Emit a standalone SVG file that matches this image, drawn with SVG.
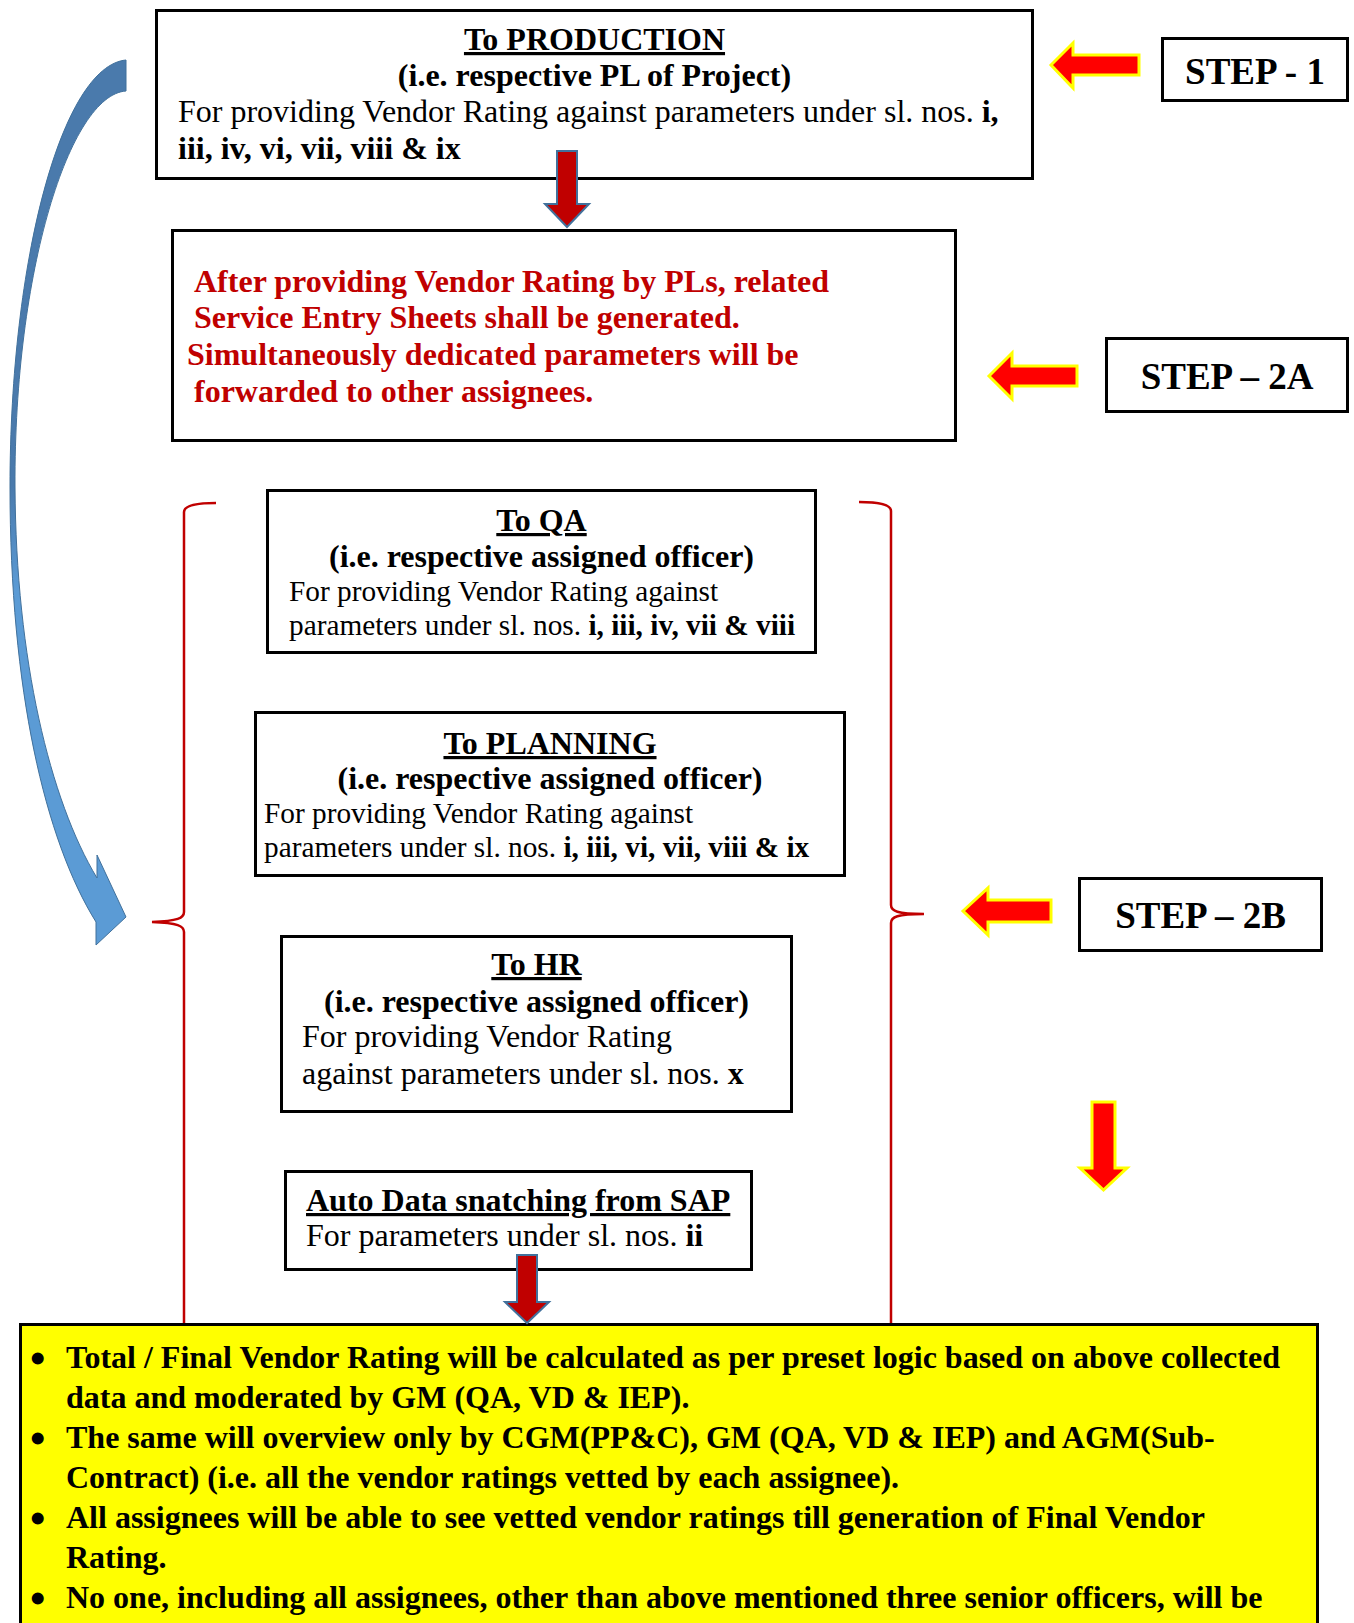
<svg xmlns="http://www.w3.org/2000/svg" width="1354" height="1623" viewBox="0 0 1354 1623">
<style>
text{font-family:"Liberation Serif","Times New Roman",serif;fill:#000}
.h{font-size:32px;font-weight:bold;text-decoration:underline}
.b{font-size:32px;font-weight:bold}
.r{font-size:32px}
.s{font-size:29.3px}
.bt{font-weight:bold}
.bul{font-size:44px;font-weight:bold}
.red{fill:#c00000;font-size:32px;font-weight:bold}
.step{font-size:37px;font-weight:bold}
.box{fill:#fff;stroke:#000;stroke-width:3}
.ylw{fill:#ffff00;stroke:#000;stroke-width:3}
.dn{fill:#c00000;stroke:#41719c;stroke-width:2}
.la{fill:#ff0000;stroke:#ffff00;stroke-width:3;stroke-linejoin:miter}
.brace{fill:none;stroke:#c00000;stroke-width:2.5}
</style>
<defs>
<linearGradient id="blueg" x1="0" y1="0" x2="0" y2="1">
<stop offset="0" stop-color="#4a7aac"/>
<stop offset="0.48" stop-color="#4a7aac"/>
<stop offset="0.6" stop-color="#5b9bd5"/>
<stop offset="1" stop-color="#5b9bd5"/>
</linearGradient>
</defs>

<g id="production">
<rect class="box" x="156.5" y="10.5" width="876" height="168"/>
<text class="h" x="594.5" y="50" text-anchor="middle">To PRODUCTION</text>
<text class="b" x="594.5" y="86" text-anchor="middle">(i.e. respective PL of Project)</text>
<text class="r" x="178" y="122">For providing Vendor Rating against parameters under sl. nos. <tspan class="bt">i,</tspan></text>
<text class="b" x="178" y="159">iii, iv, vi, vii, viii &amp; ix</text>
</g>

<g id="step1">
<rect class="box" x="1162.5" y="38.5" width="185" height="62"/>
<text class="step" x="1255" y="84" text-anchor="middle">STEP - 1</text>
</g>

<g id="after-rating">
<rect class="box" x="172.5" y="230.5" width="783" height="210"/>
<text class="red" x="194" y="292">After providing Vendor Rating by PLs, related</text>
<text class="red" x="194" y="328">Service Entry Sheets shall be generated.</text>
<text class="red" x="187" y="365">Simultaneously dedicated parameters will be</text>
<text class="red" x="194" y="402">forwarded to other assignees.</text>
</g>

<g id="step2a">
<rect class="box" x="1106.5" y="338.5" width="241" height="73"/>
<text class="step" x="1227" y="389" text-anchor="middle">STEP – 2A</text>
</g>

<g id="qa">
<rect class="box" x="267.5" y="490.5" width="548" height="162"/>
<text class="h" x="541.5" y="531" text-anchor="middle">To QA</text>
<text class="b" x="541.5" y="567" text-anchor="middle">(i.e. respective assigned officer)</text>
<text class="s" x="289" y="601">For providing Vendor Rating against</text>
<text class="s" x="289" y="635">parameters under sl. nos. <tspan class="bt">i, iii, iv, vii &amp; viii</tspan></text>
</g>

<g id="planning">
<rect class="box" x="255.5" y="712.5" width="589" height="163"/>
<text class="h" x="550" y="754" text-anchor="middle">To PLANNING</text>
<text class="b" x="550" y="789" text-anchor="middle">(i.e. respective assigned officer)</text>
<text class="s" x="264" y="823">For providing Vendor Rating against</text>
<text class="s" x="264" y="857">parameters under sl. nos. <tspan class="bt">i, iii, vi, vii, viii &amp; ix</tspan></text>
</g>

<g id="step2b">
<rect class="box" x="1079.5" y="878.5" width="242" height="72"/>
<text class="step" x="1200.5" y="928" text-anchor="middle">STEP – 2B</text>
</g>

<g id="hr">
<rect class="box" x="281.5" y="936.5" width="510" height="175"/>
<text class="h" x="536.5" y="975" text-anchor="middle">To HR</text>
<text class="b" x="536.5" y="1012" text-anchor="middle">(i.e. respective assigned officer)</text>
<text class="r" x="302" y="1047">For providing Vendor Rating</text>
<text class="r" x="302" y="1084">against parameters under sl. nos. <tspan class="bt">x</tspan></text>
</g>

<g id="sap">
<rect class="box" x="285.5" y="1171.5" width="466" height="98"/>
<text class="h" x="306" y="1211">Auto Data snatching from SAP</text>
<text class="r" x="306" y="1246">For parameters under sl. nos. <tspan class="bt">ii</tspan></text>
</g>

<g id="final">
<rect class="ylw" x="20.5" y="1324.5" width="1297" height="320"/>
<text class="bul" x="30" y="1373">•</text>
<text class="b" x="66" y="1368">Total / Final Vendor Rating will be calculated as per preset logic based on above collected</text>
<text class="b" x="66" y="1408">data and moderated by GM (QA, VD &amp; IEP).</text>
<text class="bul" x="30" y="1453">•</text>
<text class="b" x="66" y="1448">The same will overview only by CGM(PP&amp;C), GM (QA, VD &amp; IEP) and AGM(Sub-</text>
<text class="b" x="66" y="1488">Contract) (i.e. all the vendor ratings vetted by each assignee).</text>
<text class="bul" x="30" y="1533">•</text>
<text class="b" x="66" y="1528">All assignees will be able to see vetted vendor ratings till generation of Final Vendor</text>
<text class="b" x="66" y="1568">Rating.</text>
<text class="bul" x="30" y="1613">•</text>
<text class="b" x="66" y="1608">No one, including all assignees, other than above mentioned three senior officers, will be</text>
</g>

<g id="connectors">
<path id="curved-arrow" d="M126,60 C62,66 10,260 10,487 C10,690 45,840 96,922 L96,945 L126,917 L97,855 L97,878 C50,800 16,660 15,487 C14,270 70,95 126,91 Z" fill="url(#blueg)" stroke="#41719c" stroke-width="1"/>
<path class="dn" d="M557,151 H577 V204 H589 L567,227 L545,204 H557 Z"/>
<path class="dn" d="M517,1255 H537 V1302 H549 L527,1323 L505,1302 H517 Z"/>
<path class="la" d="M1051,65 L1073,43 V55 H1139 V75 H1073 V88 Z"/>
<path class="la" d="M989,376 L1012,353 V366 H1077 V386 H1012 V399 Z"/>
<path class="la" d="M963,911 L988,888 V900 H1051 V922 H988 V935 Z"/>
<path class="la" d="M1092,1102 H1115 V1168 H1127 L1103.5,1190 L1080,1168 H1092 Z"/>
<path class="brace" d="M216,503 C198,503 184,505 184,512 V912 C184,918 178,921 152,922 C178,923 184,926 184,932 V1323"/>
<path class="brace" d="M859,502 C877,502 891,504 891,511 V905 C891,911 897,914 924,914 C897,914 891,917 891,923 V1323"/>
</g>
</svg>
